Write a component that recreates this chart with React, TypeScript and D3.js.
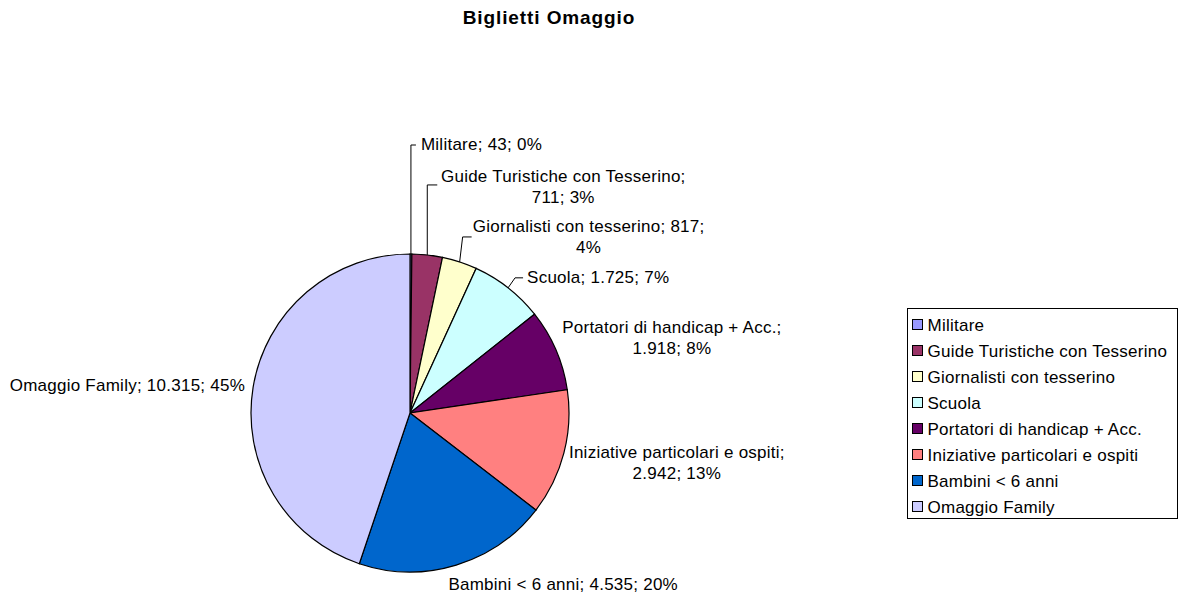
import React from "react";
import * as d3 from "d3";

const categories = [
  "Militare",
  "Guide Turistiche con Tesserino",
  "Giornalisti con tesserino",
  "Scuola",
  "Portatori di handicap + Acc.",
  "Iniziative particolari e ospiti",
  "Bambini < 6 anni",
  "Omaggio Family",
];
const values = [43, 711, 817, 1725, 1918, 2942, 4535, 10315];
const valueLabels = ["43", "711", "817", "1.725", "1.918", "2.942", "4.535", "10.315"];
const percentLabels = ["0%", "3%", "4%", "7%", "8%", "13%", "20%", "45%"];
const colors = ["#9999FF", "#993366", "#FFFFCC", "#CCFFFF", "#660066", "#FF8080", "#0066CC", "#CCCCFF"];

// label layout: text offset from slice's outer midpoint, anchor, line split, leader elbow/end
const labelLayout = [
  { dx: 10, dy: -104, anchor: "start", split: 0, leader: [[0, -109], [5, -109]] },
  { dx: 136, dy: -73, anchor: "middle", split: 1, leader: [[0, -70], [10, -70]] },
  { dx: 129, dy: -30, anchor: "middle", split: 2, leader: [[3, -25], [12, -25]] },
  { dx: 19, dy: -5, anchor: "start", split: 0, leader: [[7, -10], [15, -10]] },
  { dx: 116, dy: -17, anchor: "middle", split: 1, leader: null },
  { dx: 113, dy: 5, anchor: "middle", split: 1, leader: null },
  { dx: 107, dy: 25, anchor: "middle", split: 0, leader: null },
  { dx: -8, dy: 3.5, anchor: "end", split: 0, leader: null },
];

const width = 1183;
const height = 597;
const cx = 410;
const cy = 413;
const radius = 159;
const font = "'Liberation Sans', Arial, sans-serif";
const fs = 17;
const ls = 0.25;

export default function App() {
  const pie = d3.pie<number>().sort(null).value((d) => d);
  const arcs = pie(values);
  const arc = d3.arc<d3.PieArcDatum<number>>().innerRadius(0).outerRadius(radius);
  const edge = d3.arc<d3.PieArcDatum<number>>().innerRadius(radius).outerRadius(radius);

  const lines = (i: number): string[] => {
    const parts = [categories[i], valueLabels[i], percentLabels[i]];
    const s = labelLayout[i].split;
    if (s === 1) return [parts[0] + ";", parts[1] + "; " + parts[2]];
    if (s === 2) return [parts[0] + "; " + parts[1] + ";", parts[2]];
    return [parts.join("; ")];
  };

  const legendY = d3.scaleBand<number>().domain(d3.range(categories.length)).range([0, 208]);

  return (
    <svg
      width={width}
      height={height}
      style={{ position: "absolute", left: 0, top: 0, background: "#fff" }}
      fontFamily={font}
    >
      <text x={549} y={24} textAnchor="middle" fontSize={19} fontWeight="bold" letterSpacing={0.9}>
        Biglietti Omaggio
      </text>

      <g transform={`translate(${cx},${cy})`}>
        {arcs.map((a, i) => (
          <path key={i} d={arc(a) || ""} fill={colors[i]} stroke="#000" strokeWidth={1.2} />
        ))}
        {arcs.map((a, i) => {
          const [ox, oy] = edge.centroid(a);
          const l = labelLayout[i];
          const tx = ox + l.dx;
          const ty = oy + l.dy;
          return (
            <g key={"l" + i}>
              {l.leader && (
                <path
                  d={d3.line()([
                    [ox, oy],
                    [ox + l.leader[0][0], oy + l.leader[0][1]],
                    [ox + l.leader[1][0], oy + l.leader[1][1]],
                  ]) || ""}
                  fill="none"
                  stroke="#000"
                  strokeWidth={1}
                />
              )}
              <text x={tx} y={ty} textAnchor={l.anchor} fontSize={fs} letterSpacing={ls} fill="#000">
                {lines(i).map((t, k) => (
                  <tspan key={k} x={tx} dy={k === 0 ? 0 : 21}>
                    {t}
                  </tspan>
                ))}
              </text>
            </g>
          );
        })}
      </g>

      <g transform="translate(907.5,308.5)">
        <rect width={270} height={210} fill="#fff" stroke="#000" strokeWidth={1} />
        {categories.map((c, i) => (
          <g key={c} transform={`translate(0,${(legendY(i) || 0) + 2})`}>
            <rect x={5} y={9} width={10} height={10} fill={colors[i]} stroke="#000" strokeWidth={1} />
            <text x={20} y={20} fontSize={fs} letterSpacing={ls}>
              {c}
            </text>
          </g>
        ))}
      </g>
    </svg>
  );
}
